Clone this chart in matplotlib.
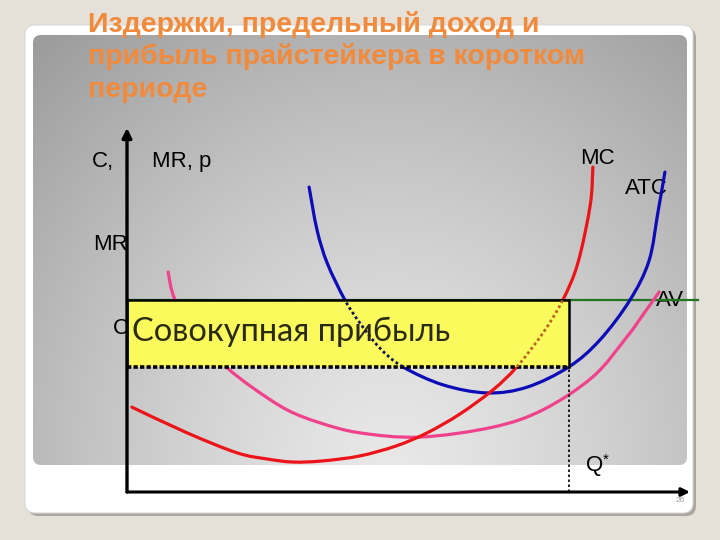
import numpy as np
import matplotlib
matplotlib.use("Agg")
import matplotlib.pyplot as plt
from matplotlib.patches import FancyBboxPatch, Rectangle, PathPatch
from matplotlib.path import Path

# ---------------- data (Q, C units) ----------------
title_lines = ["Издержки, предельный доход и",
               "прибыль прайстейкера в коротком",
               "периоде"]
box_label = "Совокупная прибыль"

price_p = 50.0      # MR = p level
q_star = 100.0      # optimal output
atc_at_q = 32.6     # ATC at Q*

mc_q = [1.1, 13.6, 24.9, 31.7, 37.6, 44.3, 52.7, 60.9, 67.9, 75.3, 82.8, 88.2, 94.1, 98.6, 102.0, 104.8, 105.4]
mc_c = [22.1, 15.4, 10.2, 8.6, 7.8, 8.1, 9.4, 12.0, 15.4, 20.3, 26.6, 32.6, 41.4, 50.0, 59.6, 74.7, 84.6]

atc_q = [41.2, 43.0, 45.3, 49.3, 52.7, 57.2, 62.4, 71.5, 81.5, 90.5, 100.0, 107.0, 113.8, 118.1, 120.1, 121.7]
atc_c = [79.4, 68.2, 59.6, 50.0, 44.0, 37.5, 32.6, 27.9, 25.8, 27.3, 32.6, 39.6, 50.0, 60.2, 72.7, 83.3]

avc_q = [9.3, 10.9, 16.5, 22.4, 28.5, 36.2, 43.7, 52.7, 66.3, 82.8, 94.1, 105.4, 113.1, 117.2, 120.4]
avc_c = [57.3, 50.0, 39.6, 32.6, 27.1, 21.4, 18.0, 15.4, 14.3, 16.9, 21.4, 30.0, 40.4, 46.9, 52.1]


def smooth_path(xs, ys):
    """Catmull-Rom curve through the points, as cubic Bezier path segments."""
    P = np.column_stack([xs, ys]).astype(float)
    n = len(P)
    verts = [P[0]]
    codes = [Path.MOVETO]
    for i in range(n - 1):
        p0 = P[i - 1] if i > 0 else P[i]
        p1 = P[i]
        p2 = P[i + 1]
        p3 = P[i + 2] if i + 2 < n else P[i + 1]
        verts += [p1 + (p2 - p0) / 6.0, p2 - (p3 - p1) / 6.0, p2]
        codes += [Path.CURVE4] * 3
    return Path(verts, codes)


# ---------------- figure ----------------
W, H = 720, 540
fig = plt.figure(figsize=(7.2, 5.4), dpi=100)
fig.patch.set_facecolor("#e6e1d8")

bg = fig.add_axes([0, 0, 1, 1])
bg.set_xlim(0, W)
bg.set_ylim(H, 0)
bg.axis("off")

# shadow + white frame
bg.add_patch(FancyBboxPatch((28, 28), 668, 488, boxstyle="round,pad=0,rounding_size=10",
                            fc="#aaa59e", ec="none", zorder=1))
bg.add_patch(FancyBboxPatch((25, 25), 668, 488, boxstyle="round,pad=0,rounding_size=10",
                            fc="white", ec="#d8d8d8", lw=0.8, zorder=2))
# gradient panel
px0, py0, px1, py1 = 33, 35, 687, 465
yy, xx = np.mgrid[py0:py1, px0:px1]
d = np.sqrt(((xx - 390) / 430.0) ** 2 + ((yy - 470) / 470.0) ** 2)
val = np.clip(0.91 - 0.23 * d ** 1.3, 0.55, 0.95)
img = np.dstack([val, val, val])
im = bg.imshow(img, extent=(px0, px1, py1, py0), zorder=3, interpolation="bilinear")
panel = FancyBboxPatch((px0, py0), px1 - px0, py1 - py0, boxstyle="round,pad=0,rounding_size=8",
                       fc="none", ec="none", transform=bg.transData)
bg.add_patch(panel)
im.set_clip_path(panel)
bg.set_xlim(0, W)
bg.set_ylim(H, 0)

# title
for i, line in enumerate(title_lines):
    bg.text(88, 32 + i * 32.5, line, fontsize=20.5, fontweight="bold", color="#f28a3c",
            family="Liberation Sans", va="baseline", ha="left", zorder=10)

# axis labels (pixel positions)
lab = dict(fontsize=16, family="Liberation Sans", color="black", va="center", ha="left", zorder=6)
bg.text(92, 161, "C,", **lab)
bg.text(152, 161, "MR, p", **lab)
bg.text(580, 159, "MC", **lab)
bg.text(625, 188, "ATC", **lab)
bg.text(93, 245, "MR", **lab)
bg.text(113, 328, "С", **lab)
bg.text(656, 301, "AV", **lab)
bg.text(586, 466, "Q", **lab)
bg.text(603, 460, "*", fontsize=11, family="Liberation Sans", va="center", ha="left", zorder=6)
bg.text(680, 501, "26", fontsize=6, color="#a0a0a0", family="Liberation Sans", ha="center", va="center", zorder=6)

# ---------------- diagram axes ----------------
ox, oy = 127, 492
sx, sy = 4.42, 3.84
right_px, top_px = 698, 120
ax = fig.add_axes([ox / W, (H - oy) / H, (right_px - ox) / W, (oy - top_px) / H])
ax.set_facecolor("none")
ax.axis("off")
ax.set_xlim(0, (right_px - ox) / sx)
ax.set_ylim(0, (oy - top_px) / sy)
xmax = (right_px - ox) / sx

# axes arrows
ax.annotate("", xy=(0, (oy - 128) / sy), xytext=(0, 0),
            arrowprops=dict(arrowstyle="-|>", lw=2.4, color="black", mutation_scale=14,
                            shrinkA=0, shrinkB=0), annotation_clip=False, zorder=5)
ax.annotate("", xy=((690 - ox) / sx, 0), xytext=(0, 0),
            arrowprops=dict(arrowstyle="-|>", lw=2.2, color="black", mutation_scale=12,
                            shrinkA=0, shrinkB=0), annotation_clip=False, zorder=5)

# MR = p line
ax.plot([0, xmax], [price_p, price_p], color="#237323", lw=1.6, zorder=2, clip_on=False)

# cost curves
curves = [(avc_q, avc_c, "#f0428c"), (atc_q, atc_c, "#0c0cb8"), (mc_q, mc_c, "#ec1418")]
for q, c, col in curves:
    ax.add_patch(PathPatch(smooth_path(q, c), fc="none", ec=col, lw=2.3, zorder=3,
                           clip_on=False, capstyle="round"))

# profit box
box = Rectangle((0, atc_at_q), q_star, price_p - atc_at_q, fc="#fafa5c", ec="none", zorder=4)
ax.add_patch(box)
ax.plot([0, q_star, q_star], [price_p, price_p, atc_at_q], color="black", lw=1.8, zorder=5,
        solid_joinstyle="miter")
ax.plot([0, 0], [atc_at_q, price_p], color="black", lw=1.8, zorder=5)
ax.plot([0, q_star], [atc_at_q, atc_at_q], color="black", lw=2.6, ls=(0, (1.2, 0.6)), zorder=5)
ax.plot([q_star, q_star], [0, atc_at_q], color="black", lw=1.2, ls=(0, (1.5, 1.5)), zorder=5)

# dotted parts of the curves inside the box
clip_rect = Rectangle((0, atc_at_q), q_star, price_p - atc_at_q, transform=ax.transData)
for q, c, col in [(atc_q, atc_c, "#101060"), (mc_q, mc_c, "#b8641e")]:
    pp = PathPatch(smooth_path(q, c), fc="none", ec=col, lw=2.0, ls=(0, (1, 1)), zorder=6)
    ax.add_patch(pp)
    pp.set_clip_path(clip_rect)

ax.text(1.1, (price_p + atc_at_q) / 2 + 0.3, box_label, fontsize=23.5, family="Lato",
        color="#2a2a12", va="center", ha="left", zorder=7)

fig.savefig("out.png", dpi=100, facecolor=fig.get_facecolor())
